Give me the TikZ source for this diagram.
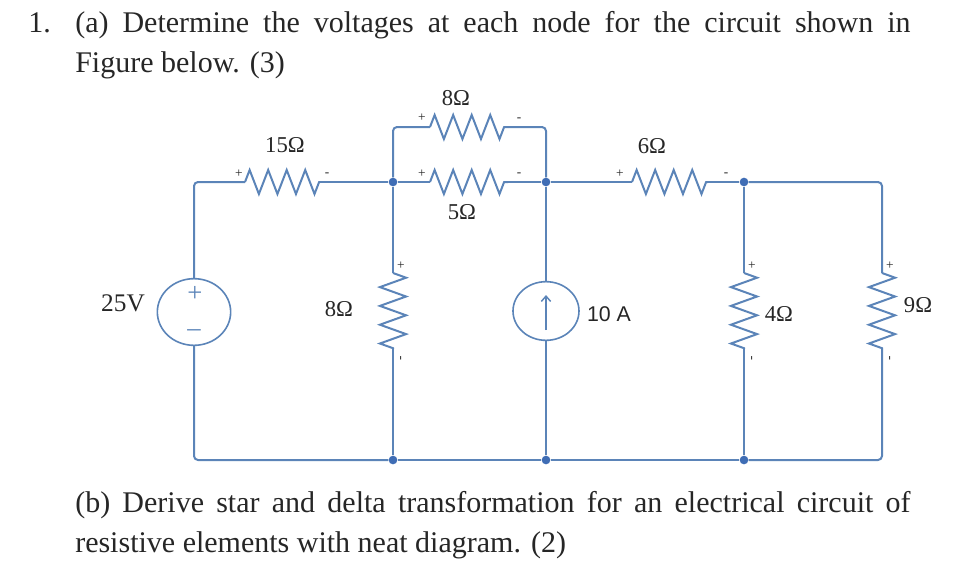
\documentclass[tikz,border=0pt]{standalone}
\usepackage{fontspec}
\setmainfont{Liberation Serif}
\setsansfont{Liberation Sans}
\usepackage{xcolor}
\usetikzlibrary{shapes.geometric,arrows.meta,decorations.pathmorphing}
\definecolor{wireblue}{HTML}{5B84B8}
\definecolor{dotblue}{HTML}{3F6DB5}
\definecolor{inkgray}{HTML}{262626}
\tikzset{
    wire/.style={draw=wireblue, line width=1.5pt, rounded corners=3pt},
    hres/.style={wire, rounded corners=0pt, decorate, decoration={zigzag, segment length=13.9pt, amplitude=9pt}},
    vres/.style={wire, rounded corners=0pt, decorate, decoration={zigzag, segment length=14.1pt, amplitude=9.8pt}},
    junction/.style={circle, fill=dotblue, inner sep=0pt, minimum size=6.5pt},
    source/.style={ellipse, draw=wireblue, line width=1.2pt, inner sep=0pt},
    val/.style={font=\fontsize{17}{20}\selectfont, text=inkgray, inner sep=0pt},
    sign/.style={font=\fontsize{10}{10}\selectfont, text=inkgray, inner sep=0pt},
    para/.style={font=\fontsize{22.5}{30}\selectfont, text=inkgray, inner sep=0pt, anchor=north west, text width=626.5pt, align=justify}
}
\begin{document}
\begin{tikzpicture}[x=0.75pt, y=-0.75pt]
    \useasboundingbox (0,0) rectangle (972,583);
    % text
    \node[para, text width=30pt, align=left] (num) at (28,4) {\strut 1.};
    \node[para] (parta) at (75,4) {\strut (a) Determine the voltages at each node for the circuit shown in\linebreak Figure below. (3)};
    \node[para] (partb) at (75,484) {\strut (b) Derive star and delta transformation for an electrical circuit of\linebreak resistive elements with neat diagram. (2)};
    % junctions
    \node[junction] (n1) at (393,182) {};
    \node[junction] (n2) at (546,182) {};
    \node[junction] (n3) at (744,182) {};
    \node[junction] (g1) at (393,460) {};
    \node[junction] (g2) at (546,460) {};
    \node[junction] (g3) at (744,460) {};
    % sources
    \node[source, minimum width=55pt, minimum height=50pt] (vs) at (194,312) {};
    \node[source, minimum width=49.5pt, minimum height=44pt] (is) at (546,311) {};
    % resistor end points
    \coordinate (r15a) at (245,182);
    \coordinate (r15b) at (320,182);
    \coordinate (r8a) at (430,127);
    \coordinate (r8b) at (508,127);
    \coordinate (r5a) at (430,182);
    \coordinate (r5b) at (508,182);
    \coordinate (r6a) at (632,182);
    \coordinate (r6b) at (708,182);
    \coordinate (v8a) at (393,273);
    \coordinate (v8b) at (393,349);
    \coordinate (v4a) at (744,273);
    \coordinate (v4b) at (744,349);
    \coordinate (v9a) at (882,273);
    \coordinate (v9b) at (882,349);
    % resistors
    \draw[hres] (r15a) -- (r15b);
    \draw[hres] (r8a) -- (r8b);
    \draw[hres] (r5a) -- (r5b);
    \draw[hres] (r6a) -- (r6b);
    \draw[vres] (v8a) -- (v8b);
    \draw[vres] (v4a) -- (v4b);
    \draw[vres] (v9a) -- (v9b);
    % wires
    \draw[wire] (vs.north) |- (r15a);
    \draw[wire] (r15b) -- (n1);
    \draw[wire] (n1) -- (r5a);
    \draw[wire] (r5b) -- (n2);
    \draw[wire] (n2) -- (r6a);
    \draw[wire] (r6b) -- (n3);
    \draw[wire] (n1) |- (r8a);
    \draw[wire] (r8b) -| (n2);
    \draw[wire] (n3) -| (v9a);
    \draw[wire] (n1) -- (v8a);
    \draw[wire] (v8b) -- (g1);
    \draw[wire] (n2) -- (is.north);
    \draw[wire] (is.south) -- (g2);
    \draw[wire] (n3) -- (v4a);
    \draw[wire] (v4b) -- (g3);
    \draw[wire] (vs.south) |- (g1);
    \draw[wire] (g1) -- (g2);
    \draw[wire] (g2) -- (g3);
    \draw[wire] (g3) -| (v9b);
    % source marks
    \node[text=wireblue, font=\fontsize{20}{20}\selectfont, inner sep=0pt] (vsp) at (195,294) {+};
    \node[text=wireblue, font=\fontsize{20}{20}\selectfont, inner sep=0pt] (vsm) at (194,333) {--};
    \coordinate (isa) at (546,330);
    \coordinate (isb) at (546,295);
    \draw[draw=wireblue, line width=1.1pt, -{Straight Barb[length=4pt,width=7pt]}] (isa) -- (isb);
    % values
    \node[val] (l15) at (285,145) {15Ω};
    \node[val] (l8t) at (456,98) {8Ω};
    \node[val] (l5) at (462,212) {5Ω};
    \node[val] (l6) at (652,146) {6Ω};
    \node[val, font=\fontsize{19}{20}\selectfont] (l25) at (123,303) {25V};
    \node[val] (l8v) at (339,309) {8Ω};
    \node[val, font=\fontsize{16}{20}\selectfont\sffamily] (l10) at (609,314) {10 A};
    \node[val] (l4) at (779,314) {4Ω};
    \node[val] (l9) at (918,305) {9Ω};
    % polarity marks
    \node[sign] at (239,174) {+};
    \node[sign] at (327,175) {-};
    \node[sign] at (422,118) {+};
    \node[sign] at (519,120) {-};
    \node[sign] at (422,174) {+};
    \node[sign] at (519,175) {-};
    \node[sign] at (620,174) {+};
    \node[sign] at (726,175) {-};
    \node[sign] at (401,266) {+};
    \node[sign, rotate=90] at (402,358) {-};
    \node[sign] at (752,266) {+};
    \node[sign, rotate=90] at (753,358) {-};
    \node[sign] at (890,266) {+};
    \node[sign, rotate=90] at (891,358) {-};
\end{tikzpicture}
\end{document}
